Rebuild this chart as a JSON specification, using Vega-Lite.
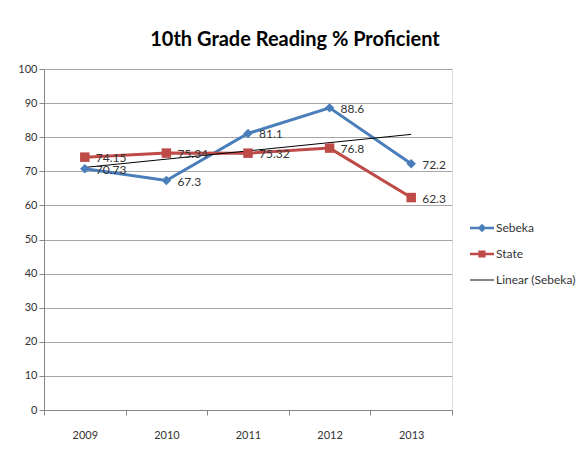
{
  "$schema": "https://vega.github.io/schema/vega-lite/v6.json",
  "width": 408,
  "height": 341,
  "autosize": {"type": "none"},
  "padding": {"left": 44, "top": 69, "right": 127, "bottom": 43},
  "background": "white",
  "title": {
    "text": "10th Grade Reading % Proficient",
    "fontSize": 20,
    "font": "Lato",
    "fontWeight": "bold",
    "color": "#000000",
    "anchor": "middle",
    "frame": "group",
    "dx": 47,
    "dy": 20,
    "offset": 17,
    "baseline": "alphabetic"
  },
  "data": {
    "values": [
      {"year": "2009", "series": "Sebeka", "value": 70.73},
      {"year": "2010", "series": "Sebeka", "value": 67.3},
      {"year": "2011", "series": "Sebeka", "value": 81.1},
      {"year": "2012", "series": "Sebeka", "value": 88.6},
      {"year": "2013", "series": "Sebeka", "value": 72.2},
      {"year": "2009", "series": "State", "value": 74.15},
      {"year": "2010", "series": "State", "value": 75.34},
      {"year": "2011", "series": "State", "value": 75.32},
      {"year": "2012", "series": "State", "value": 76.8},
      {"year": "2013", "series": "State", "value": 62.3},
      {"year": "2009", "series": "Linear (Sebeka)", "value": 71.14},
      {"year": "2013", "series": "Linear (Sebeka)", "value": 80.83}
    ]
  },
  "encoding": {
    "x": {
      "field": "year",
      "type": "ordinal",
      "bandPosition": 0.5,
      "scale": {"type": "band", "paddingInner": 0, "paddingOuter": 0},
      "axis": {
        "title": null,
        "labelAngle": 0,
        "tickBand": "extent",
        "domainColor": "#868686",
        "tickColor": "#868686",
        "tickSize": 5,
        "labelPadding": 14,
        "labelFontSize": 11,
        "labelFont": "Lato",
        "labelColor": "#333333",
        "grid": false
      }
    },
    "y": {
      "field": "value",
      "type": "quantitative",
      "scale": {"domain": [0, 100]},
      "axis": {
        "title": null,
        "values": [0, 10, 20, 30, 40, 50, 60, 70, 80, 90, 100],
        "grid": true,
        "gridColor": "#a6a6a6",
        "domainColor": "#868686",
        "tickColor": "#868686",
        "tickSize": 5,
        "labelPadding": 2,
        "labelFontSize": 11,
        "labelFont": "Lato",
        "labelColor": "#333333"
      }
    },
    "color": {
      "field": "series",
      "type": "nominal",
      "scale": {
        "domain": ["Sebeka", "State", "Linear (Sebeka)"],
        "range": ["#4a7ebb", "#be4b48", "#000000"]
      },
      "legend": {
        "title": null,
        "orient": "none",
        "legendX": 426,
        "legendY": 147,
        "padding": 0,
        "symbolSize": 576,
        "rowPadding": 8,
        "labelOffset": 2,
        "labelFontSize": 12,
        "labelFont": "Lato",
        "labelColor": "#333333",
        "encode": {
          "symbols": {
            "update": {
              "shape": {"signal": "datum.value === 'Sebeka' ? 'M-1,-0.1H1V0.1H-1ZM0,-0.36L0.36,0L0,0.36L-0.36,0Z' : datum.value === 'State' ? 'M-1,-0.1H1V0.1H-1ZM-0.3,-0.3H0.3V0.3H-0.3Z' : 'M-1,-0.04H1V0.04H-1Z'"},
              "fill": {"signal": "datum.value === 'Sebeka' ? '#4a7ebb' : datum.value === 'State' ? '#be4b48' : '#000000'"},
              "stroke": {"value": "transparent"},
              "strokeWidth": {"value": 0},
              "opacity": {"value": 1}
            }
          }
        }
      }
    }
  },
  "layer": [
    {
      "transform": [{"filter": "datum.series !== 'Linear (Sebeka)'"}],
      "mark": {"type": "line", "strokeWidth": 3}
    },
    {
      "transform": [{"filter": "datum.series === 'Linear (Sebeka)'"}],
      "mark": {"type": "line", "strokeWidth": 1}
    },
    {
      "transform": [{"filter": "datum.series !== 'Linear (Sebeka)'"}],
      "mark": {"type": "point", "filled": true, "opacity": 1, "size": 90},
      "encoding": {
        "shape": {
          "field": "series",
          "type": "nominal",
          "scale": {"domain": ["Sebeka", "State"], "range": ["diamond", "square"]},
          "legend": null
        }
      }
    },
    {
      "transform": [{"filter": "datum.series !== 'Linear (Sebeka)'"}],
      "mark": {"type": "text", "align": "left", "baseline": "middle", "dx": 11, "dy": 1, "fontSize": 12, "font": "Lato"},
      "encoding": {
        "text": {"field": "value", "type": "nominal"},
        "color": {"value": "#333333"}
      }
    }
  ]
}
